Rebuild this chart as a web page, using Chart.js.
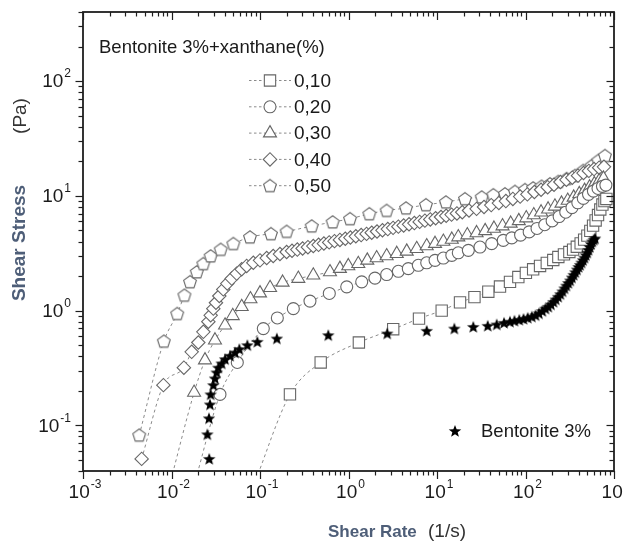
<!DOCTYPE html>
<html>
<head>
<meta charset="utf-8">
<script src="https://cdn.jsdelivr.net/npm/chart.js@4.4.1/dist/chart.umd.min.js"></script>
<style>
  html, body { margin: 0; padding: 0; background: #fff; }
  #wrap { width: 624px; height: 549px; }
</style>
</head>
<body>
<div id="wrap"><canvas id="myChart" width="624" height="549"></canvas></div>
<script>
// flow curves, bentonite 3% with xanthane added
var xanthane = ["0,10", "0,20", "0,30", "0,40", "0,50"];

var rate010 = [0.085, 0.218, 0.485, 1.31, 3.2, 6.26, 11.3, 18.2, 26.5, 38, 51.5, 66.8, 83, 101, 122, 146, 174, 206, 235, 272, 313, 345, 380, 420, 460, 500, 540, 580, 620, 660, 700, 740, 780, 820];
var stress010 = [0.03, 0.186, 0.353, 0.527, 0.688, 0.851, 1.0, 1.18, 1.31, 1.46, 1.62, 1.78, 1.96, 2.13, 2.29, 2.45, 2.60, 2.76, 2.93, 3.09, 3.24, 3.40, 3.60, 3.85, 4.15, 4.5, 4.95, 5.5, 6.1, 6.8, 7.6, 8.4, 9.0, 9.4];

var rate020 = [0.018, 0.0353, 0.0554, 0.109, 0.157, 0.238, 0.367, 0.607, 0.955, 1.41, 1.99, 2.70, 3.66, 4.74, 6.15, 7.65, 9.5, 11.8, 14.7, 17.4, 22.6, 30.6, 41.5, 56.1, 70, 88, 110, 135, 165, 200, 240, 285, 335, 390, 450, 515, 585, 660, 740, 810];
var stress020 = [0.03, 0.186, 0.353, 0.697, 0.863, 1.04, 1.21, 1.41, 1.61, 1.78, 1.92, 2.06, 2.20, 2.32, 2.48, 2.61, 2.74, 2.87, 3.03, 3.19, 3.35, 3.58, 3.83, 4.09, 4.3, 4.55, 4.85, 5.2, 5.6, 6.05, 6.6, 7.2, 7.9, 8.7, 9.5, 10.3, 11.0, 11.6, 12.1, 12.4];

var rate030 = [0.0095, 0.018, 0.0239, 0.031, 0.0403, 0.0492, 0.0621, 0.078, 0.1, 0.13, 0.18, 0.271, 0.40, 0.618, 0.80, 0.995, 1.29, 1.63, 2.08, 2.70, 3.51, 4.55, 5.90, 7.65, 9.5, 11.8, 14.7, 17.4, 22, 28, 35, 44, 55, 68, 84, 102, 124, 150, 180, 215, 255, 300, 350, 405, 465, 530, 600, 680, 760];
var stress030 = [0.03, 0.193, 0.37, 0.552, 0.745, 0.9, 1.08, 1.26, 1.42, 1.58, 1.76, 1.90, 2.03, 2.17, 2.32, 2.45, 2.56, 2.74, 2.87, 2.99, 3.13, 3.28, 3.46, 3.65, 3.83, 4.0, 4.17, 4.37, 4.55, 4.75, 4.95, 5.2, 5.45, 5.75, 6.05, 6.4, 6.8, 7.2, 7.65, 8.1, 8.6, 9.1, 9.7, 10.4, 11.1, 11.9, 12.7, 13.5, 14.2];

var rate040 = [0.0046, 0.0081, 0.0138, 0.0169, 0.0201, 0.0229, 0.0261, 0.0277, 0.0297, 0.0318, 0.0347, 0.0385, 0.0427, 0.0479, 0.0545, 0.0621, 0.0707, 0.084, 0.1, 0.119, 0.141, 0.168, 0.2,
  0.23, 0.264, 0.303, 0.348, 0.4, 0.459, 0.527, 0.605, 0.695, 0.8, 0.92, 1.05, 1.21, 1.39, 1.6, 1.83, 2.1, 2.42, 2.78, 3.19, 3.66, 4.2, 4.83, 5.55, 6.37, 7.3, 8.4, 9.65, 11.1, 12.7, 14.6, 16.8, 19.3,
  23, 28, 34, 41, 50, 60, 72, 87, 105, 126, 150, 178, 210, 248, 290, 338, 392, 452, 520, 595, 680, 770];
var stress040 = [0.051, 0.224, 0.318, 0.437, 0.527, 0.653, 0.80, 0.91, 1.04, 1.17, 1.34, 1.53, 1.72, 1.90, 2.10, 2.29, 2.45, 2.61, 2.74, 2.87, 2.99, 3.11, 3.24,
  3.32, 3.40, 3.48, 3.57, 3.65, 3.74, 3.84, 3.93, 4.03, 4.13, 4.23, 4.33, 4.44, 4.55, 4.66, 4.77, 4.89, 5.01, 5.13, 5.26, 5.39, 5.52, 5.65, 5.79, 5.93, 6.08, 6.23, 6.38, 6.54, 6.70, 6.86, 7.03, 7.2,
  7.45, 7.7, 8.0, 8.3, 8.65, 9.0, 9.4, 9.85, 10.3, 10.8, 11.3, 11.9, 12.5, 13.2, 13.8, 14.4, 15.0, 15.8, 16.5, 17.1, 17.6, 17.9];

var rate050 = [0.00432, 0.0082, 0.0116, 0.014, 0.0162, 0.0193, 0.0229, 0.0277, 0.036, 0.050, 0.077, 0.133, 0.200, 0.384, 0.662, 1.04, 1.72, 2.70, 4.47, 7.5, 12.6, 20.7, 32, 43.3, 58.6, 76, 98.7, 122, 152, 189, 235, 292, 362, 450, 560, 665, 791];
var stress050 = [0.082, 0.54, 0.94, 1.36, 1.78, 2.17, 2.56, 2.99, 3.41, 3.83, 4.37, 4.67, 4.89, 5.45, 5.91, 6.31, 6.97, 7.45, 7.82, 8.35, 8.82, 9.42, 9.75, 10.2, 10.4, 10.9, 11.3, 11.7, 12.1, 12.7, 13.3, 14.1, 15.0, 16.6, 18.3, 20.3, 22.4];

// bentonite alone
var rateBent = [0.0267, 0.0254, 0.0265, 0.0272, 0.0277, 0.0297, 0.031, 0.0324, 0.0338, 0.0369, 0.0403, 0.0459, 0.0522, 0.0584, 0.072, 0.0933, 0.155, 0.591, 2.74, 7.65, 15.7, 25.7, 37.4, 47.3, 57.2, 66.8,
  75, 85, 95, 106, 118, 130, 142, 155, 168, 181, 194, 207, 220, 234, 248, 262, 276, 290, 305, 320, 335, 350, 366, 382, 398, 414, 430, 447, 464, 481, 498, 515, 532, 550, 568, 590, 610];
var stressBent = [0.051, 0.0835, 0.115, 0.152, 0.186, 0.224, 0.256, 0.289, 0.318, 0.346, 0.377, 0.404, 0.431, 0.461, 0.499, 0.534, 0.571, 0.61, 0.631, 0.666, 0.697, 0.721, 0.736, 0.756, 0.782, 0.80,
  0.815, 0.83, 0.845, 0.865, 0.885, 0.91, 0.945, 0.99, 1.04, 1.08, 1.13, 1.19, 1.25, 1.32, 1.39, 1.47, 1.56, 1.65, 1.74, 1.83, 1.94, 2.05, 2.16, 2.28, 2.40, 2.50, 2.62, 2.75, 2.89, 3.04, 3.20, 3.38, 3.58, 3.80, 4.0, 4.15, 4.25];

var xExp = [-3, -2, -1, 0, 1, 2, 3];
var yExp = [-1, 0, 1, 2];

var grey = "#666";
var lineGrey = "#8a8a8a";
var titleBlue = "#4e5e78";
var FONT = "'Liberation Sans', Arial, sans-serif";

function makeMarker(size, draw) {
  var c = document.createElement("canvas");
  c.width = size; c.height = size;
  draw(c.getContext("2d"), size / 2);
  return c;
}

function polyPath(g, m, n, rOut, rIn) {
  g.beginPath();
  var steps = rIn ? n * 2 : n;
  for (var i = 0; i < steps; i++) {
    var r = (rIn && i % 2) ? rIn : rOut;
    var a = -Math.PI / 2 + i * 2 * Math.PI / steps;
    var px = m + r * Math.cos(a), py = m + 0.5 + r * Math.sin(a);
    if (i === 0) g.moveTo(px, py); else g.lineTo(px, py);
  }
  g.closePath();
}

var pentagon = makeMarker(16, function (g, m) {
  polyPath(g, m, 5, 6.7);
  g.fillStyle = "#fff"; g.fill();
  g.strokeStyle = grey; g.lineWidth = 1.1; g.stroke();
});

var star = makeMarker(16, function (g, m) {
  polyPath(g, m, 5, 6.6, 2.8);
  g.fillStyle = "#000"; g.fill();
});

var markers = [
  { style: "rect", radius: 8 },
  { style: "circle", radius: 6 },
  { style: "triangle", radius: 7.5 },
  { style: "rectRot", radius: 6.7 },
  { style: pentagon, radius: 6.7 }
];

function pairs(xs, ys) {
  return xs.map(function (v, i) { return { x: v, y: ys[i] }; });
}

var rates = [rate010, rate020, rate030, rate040, rate050];
var stresses = [stress010, stress020, stress030, stress040, stress050];

var datasets = [{
  label: "Bentonite 3%",
  data: pairs(rateBent, stressBent),
  showLine: false,
  pointStyle: star,
  pointRadius: 6,
  order: 0
}];
for (var s = 0; s < xanthane.length; s++) {
  datasets.push({
    label: xanthane[s],
    data: pairs(rates[s], stresses[s]),
    showLine: true,
    borderColor: lineGrey,
    borderWidth: 1,
    borderDash: [3, 3],
    cubicInterpolationMode: "monotone",
    pointStyle: markers[s].style,
    pointRadius: markers[s].radius,
    pointBackgroundColor: "#fff",
    pointBorderColor: grey,
    pointBorderWidth: 1.1,
    order: 1 + s
  });
}

function drawPower(ctx, exp, x, y, align) {
  ctx.font = "19px " + FONT;
  var w1 = ctx.measureText("10").width;
  ctx.font = "12px " + FONT;
  var w2 = ctx.measureText(String(exp)).width;
  var left = align === "right" ? x - w1 - w2 - 1 : x - (w1 + w2 + 1) / 2;
  ctx.textAlign = "left";
  ctx.textBaseline = "middle";
  ctx.font = "19px " + FONT;
  ctx.fillText("10", left, y);
  ctx.font = "12px " + FONT;
  ctx.fillText(String(exp), left + w1 + 1, y - 8);
}

function seg(ctx, x1, y1, x2, y2) {
  ctx.beginPath(); ctx.moveTo(x1, y1); ctx.lineTo(x2, y2); ctx.stroke();
}

var frame = {
  id: "frame",
  afterDatasetsDraw: function (chart) {
    var ctx = chart.ctx, a = chart.chartArea;
    var xs = chart.scales.x, ys = chart.scales.y;
    ctx.save();
    ctx.strokeStyle = "#1e1e1e";
    ctx.lineWidth = 1.2;

    // x ticks: bottom ones point out, top ones point in
    for (var e = xExp[0]; e <= xExp[xExp.length - 1]; e++) {
      for (var k = 1; k < 10; k++) {
        var v = k * Math.pow(10, e);
        if (v > xs.max * 1.0001) break;
        var px = Math.round(xs.getPixelForValue(v)) + 0.5;
        var len = k === 1 ? 8 : 4.5;
        seg(ctx, px, a.bottom, px, a.bottom + len);
        seg(ctx, px, a.top, px, a.top + len);
      }
    }
    // y ticks: left ones point out, right ones point in
    var lo = Math.floor(Math.log10(ys.min)), hi = Math.floor(Math.log10(ys.max));
    for (var e2 = lo; e2 <= hi; e2++) {
      for (var k2 = 1; k2 < 10; k2++) {
        var v2 = k2 * Math.pow(10, e2);
        if (v2 < ys.min || v2 > ys.max) continue;
        var py = Math.round(ys.getPixelForValue(v2)) + 0.5;
        var len2 = k2 === 1 ? 7.5 : 4.5;
        seg(ctx, a.left - len2, py, a.left, py);
        seg(ctx, a.right - len2, py, a.right, py);
      }
    }

    ctx.lineWidth = 1.8;
    ctx.strokeRect(a.left, a.top, a.right - a.left, a.bottom - a.top);

    // tick labels
    ctx.fillStyle = "#1a1a1a";
    xExp.forEach(function (ex) {
      drawPower(ctx, ex, xs.getPixelForValue(Math.pow(10, ex)) + 2, a.bottom + 22, "center");
    });
    yExp.forEach(function (ex) {
      drawPower(ctx, ex, a.left - 12, ys.getPixelForValue(Math.pow(10, ex)) + 1, "right");
    });

    // axis titles
    ctx.textBaseline = "middle";
    ctx.textAlign = "left";
    ctx.fillStyle = titleBlue;
    ctx.font = "bold 17px " + FONT;
    ctx.fillText("Shear Rate", 328, a.bottom + 61);
    ctx.fillStyle = "#333";
    ctx.font = "19px " + FONT;
    ctx.fillText("(1/s)", 428, a.bottom + 61);

    ctx.save();
    ctx.translate(20, 0);
    ctx.rotate(-Math.PI / 2);
    ctx.textAlign = "center";
    ctx.fillStyle = titleBlue;
    ctx.font = "bold 19px " + FONT;
    ctx.fillText("Shear Stress", -243, 0);
    ctx.fillStyle = "#333";
    ctx.font = "19px " + FONT;
    ctx.fillText("(Pa)", -116, 1);
    ctx.restore();

    // legend for the xanthane series
    ctx.fillStyle = "#1a1a1a";
    ctx.textAlign = "left";
    ctx.font = "18.5px " + FONT;
    ctx.fillText("Bentonite 3%+xanthane(%)", 99, 48);
    for (var i = 0; i < xanthane.length; i++) {
      var ly = 80.5 + i * 26.3;
      ctx.strokeStyle = lineGrey;
      ctx.lineWidth = 1;
      ctx.setLineDash([2.5, 2.5]);
      seg(ctx, 249, ly, 291, ly);
      ctx.setLineDash([]);
      ctx.fillStyle = "#fff";
      ctx.strokeStyle = grey;
      ctx.lineWidth = 1.1;
      Chart.helpers.drawPoint(ctx, { pointStyle: markers[i].style, radius: markers[i].radius, rotation: 0, borderWidth: 1.1 }, 270, ly);
      ctx.fillStyle = "#1a1a1a";
      ctx.font = "19px " + FONT;
      ctx.fillText(xanthane[i], 294, ly + 1);
    }

    // legend for bentonite alone
    Chart.helpers.drawPoint(ctx, { pointStyle: star, radius: 6, rotation: 0, borderWidth: 0 }, 455, 431);
    ctx.fillStyle = "#1a1a1a";
    ctx.font = "18.5px " + FONT;
    ctx.fillText("Bentonite 3%", 481, 432);
    ctx.restore();
  }
};

new Chart("myChart", {
  type: "scatter",
  data: { datasets: datasets },
  options: {
    responsive: false,
    animation: false,
    events: [],
    layout: { padding: { left: 83, right: 10, top: 12, bottom: 78 } },
    plugins: { legend: { display: false }, tooltip: { enabled: false } },
    scales: {
      x: { type: "logarithmic", min: 0.001, max: 1000, display: false },
      y: { type: "logarithmic", min: 0.04, max: 400, display: false }
    }
  },
  plugins: [frame]
});
</script>
</body>
</html>
